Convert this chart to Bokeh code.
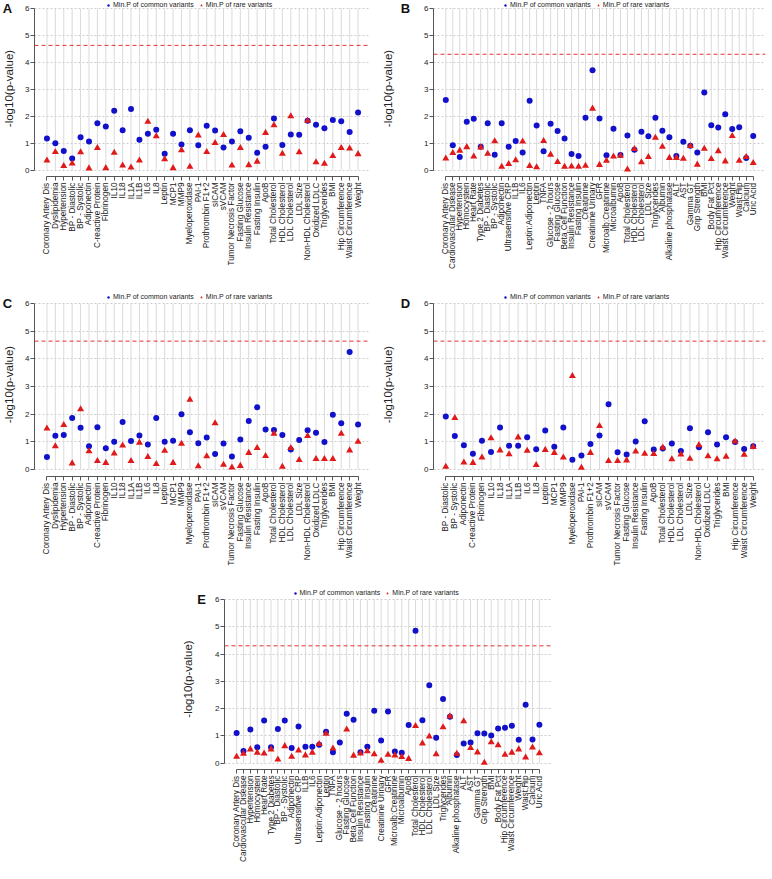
import math
import numpy as np
from bokeh.plotting import figure
from bokeh.models import (ColumnDataSource, Range1d, FixedTicker, Span, Label,
                          Legend, LegendItem)
from bokeh.layouts import column, row
from bokeh.embed import file_html
from bokeh.resources import INLINE

FONT = "Liberation Sans"
BLUE = "#1111cc"
RED = "#e01a1a"

# ---------------- data ----------------
cats_A = ["Coronary Artery Dis", "Dyslipidemia", "Hypertension", "BP - Diastolic", "BP - Systolic",
          "Adiponectin", "C-reactive Protein", "Fibrinogen", "IL10", "IL18", "IL1A", "IL1B", "IL6",
          "IL8", "Leptin", "MCP1", "MMP9", "Myeloperoxidase", "PAI-1", "Prothrombin F1+2", "sICAM",
          "sVCAM", "Tumor Necrosis Factor", "Fasting Glucose", "Insulin Resistance", "Fasting Insulin",
          "ApoB", "Total Cholesterol", "HDL Cholesterol", "LDL Cholesterol", "LDL Size",
          "Non-HDL Cholesterol", "Oxidized LDLC", "Triglycerides", "BMI", "Hip Circumference",
          "Waist Circumference", "Weight"]
common_A = [1.17, 0.99, 0.71, 0.43, 1.22, 1.06, 1.74, 1.62, 2.20, 1.48, 2.27, 1.12, 1.35, 1.50, 0.60,
            1.35, 0.95, 1.48, 0.92, 1.64, 1.47, 0.84, 1.06, 1.44, 1.20, 0.64, 0.86, 1.91, 0.93, 1.32,
            1.31, 1.83, 1.68, 1.55, 1.86, 1.81, 1.41, 2.14]
rare_A = [0.35, 0.67, 0.15, 0.24, 0.66, 0.06, 0.82, 0.07, 0.64, 0.17, 0.09, 0.35, 1.79, 1.25, 0.40,
          0.07, 0.73, 0.12, 1.28, 0.67, 1.00, 1.30, 0.17, 0.82, 0.18, 0.31, 1.38, 1.66, 0.60, 2.00,
          0.66, 1.83, 0.29, 0.23, 0.52, 0.82, 0.80, 0.59]

cats_B = ["Coronary Artery Dis", "Cardiovascular Disease", "Hypertension", "Homocystein", "Heart Rate",
          "Type 2 Diabetes", "BP - Diastolic", "BP - Systolic", "Adiponectin", "Ultrasensitive CRP",
          "IL1B", "IL6", "Leptin:Adiponectin", "Leptin", "TNFA", "Glucose - 2 hours", "Fasting Glucose",
          "Beta Cell Function", "Insulin Resistance", "Fasting Insulin", "Creatinine",
          "Creatinine Urinary", "GFR", "Microalb:Creatinine", "Microalbumin", "ApoB",
          "Total Cholesterol", "HDL Cholesterol", "LDL Cholesterol", "LDL Size", "Triglycerides",
          "Albumin", "Alkaline phosphatase", "ALT", "AST", "Gamma GT", "Grip Strength", "BMI",
          "Body Fat Pct", "Hip Circumference", "Waist Circumference", "Weight", "Waist:Hip",
          "Calcium", "Uric Acid"]
common_B = [2.60, 0.92, 0.48, 1.79, 1.90, 0.86, 1.74, 0.57, 1.74, 0.86, 1.08, 0.65, 2.57, 1.65, 0.70,
            1.72, 1.45, 1.17, 0.59, 0.52, 1.94, 3.71, 1.91, 0.55, 1.53, 0.56, 1.28, 0.75, 1.42, 1.25,
            1.94, 1.46, 1.22, 0.52, 1.05, 0.90, 0.65, 2.88, 1.66, 1.58, 2.07, 1.52, 1.59, 0.45, 1.26]
rare_B = [0.43, 0.63, 0.72, 0.85, 0.50, 0.84, 0.60, 1.07, 0.12, 0.22, 0.36, 1.06, 0.15, 0.10, 1.08,
          0.57, 0.30, 0.12, 0.13, 0.12, 0.16, 2.28, 0.19, 0.34, 0.50, 0.53, 0.02, 0.78, 0.29, 0.48,
          1.20, 0.86, 0.45, 0.45, 0.42, 0.89, 0.20, 0.79, 0.41, 0.70, 0.32, 1.26, 0.34, 0.48, 0.26]

cats_C = list(cats_A)
common_C = [0.45, 1.22, 1.25, 1.86, 1.51, 0.84, 1.53, 0.77, 1.00, 1.72, 1.03, 1.23, 0.90, 1.86, 1.00,
            1.04, 2.00, 1.35, 0.95, 1.16, 0.56, 0.94, 0.47, 1.08, 1.75, 2.25, 1.45, 1.43, 1.25, 0.72,
            1.07, 1.42, 1.33, 0.99, 1.98, 1.67, 4.25, 1.63]
rare_C = [1.48, 0.84, 1.61, 0.22, 2.18, 0.66, 0.31, 0.24, 0.58, 0.87, 0.31, 0.97, 0.45, 0.20, 0.68,
          0.24, 0.93, 2.52, 0.12, 0.48, 1.67, 0.17, 0.07, 0.13, 0.60, 0.78, 0.49, 1.29, 0.10, 0.78,
          0.34, 1.21, 0.38, 0.38, 0.38, 1.29, 0.69, 1.00]

cats_D = ["BP - Diastolic", "BP - Systolic", "Adiponectin", "C-reactive Protein", "Fibrinogen", "IL10",
          "IL18", "IL1A", "IL1B", "IL6", "IL8", "Leptin", "MCP1", "MMP9", "Myeloperoxidase", "PAI-1",
          "Prothrombin F1+2", "sICAM", "sVCAM", "Tumor Necrosis Factor", "Fasting Glucose",
          "Insulin Resistance", "Fasting Insulin", "ApoB", "Total Cholesterol", "HDL Cholesterol",
          "LDL Cholesterol", "LDL Size", "Non-HDL Cholesterol", "Oxidized LDLC", "Triglycerides", "BMI",
          "Hip Circumference", "Waist Circumference", "Weight"]
common_D = [1.92, 1.21, 0.88, 0.57, 1.04, 0.63, 1.52, 0.86, 0.86, 1.17, 0.73, 1.41, 0.82, 1.52, 0.35,
            0.51, 0.92, 1.23, 2.36, 0.62, 0.54, 1.01, 1.74, 0.72, 0.76, 0.94, 0.67, 1.49, 0.80, 1.35,
            0.90, 1.17, 0.99, 0.74, 0.84]
rare_D = [0.10, 1.86, 0.25, 0.24, 0.43, 1.13, 0.69, 0.55, 1.16, 0.68, 0.16, 0.71, 0.60, 0.43, 3.38,
          0.06, 0.60, 1.57, 0.31, 0.31, 0.33, 0.65, 0.57, 0.56, 0.79, 0.37, 0.54, 0.39, 0.88, 0.48,
          0.37, 0.46, 1.01, 0.53, 0.81]

cats_E = list(cats_B)
common_E = [1.10, 0.44, 1.23, 0.58, 1.56, 0.58, 1.25, 1.56, 0.55, 1.34, 0.60, 0.60, 0.67, 1.15, 0.39,
            0.75, 1.81, 1.59, 0.39, 0.60, 1.92, 0.83, 1.89, 0.42, 0.38, 1.39, 4.85, 1.57, 2.85, 0.93,
            2.35, 1.70, 0.29, 0.72, 0.75, 1.09, 1.08, 1.01, 1.27, 1.29, 1.37, 0.85, 2.14, 0.86, 1.40]
rare_E = [0.23, 0.34, 0.50, 0.38, 0.35, 0.50, 0.13, 0.62, 0.23, 0.46, 0.28, 0.38, 0.70, 1.07, 0.53,
          float("nan"), 1.23, 0.27, 0.35, 0.43, 0.32, 0.08, 0.30, 0.28, 0.22, 0.15, 1.36, 0.72, 0.97,
          0.32, 1.31, 1.71, 0.34, 1.53, 0.55, 0.39, 0.01, 0.76, 0.65, 0.30, 0.38, 0.50, 0.20, 0.57, 0.36]

thresholds = {"A": 4.63, "B": 4.30, "C": 4.64, "D": 4.64, "E": 4.30}
y_ticks = [0, 1, 2, 3, 4, 5, 6]


def make_panel(letter, cats, common, rare, thr, frame_w, border_left, border_right,
               ylab_standoff, frame_top, y6, y0, fig_bottom, letter_dx, legend_dx, letter_side):
    n = len(cats)
    xs = list(range(1, n + 1))
    pad = 0.04 * (n - 1)
    x_start, x_end = 1 - pad, n + pad
    pxu_x = frame_w / (x_end - x_start)
    pxu_y = (y0 - y6) / 6.0
    frame_h = int(round(y0 + 0.24 * pxu_y - frame_top))
    ytop = 6 + (y6 - frame_top) / pxu_y
    ybot = ytop - frame_h / pxu_y
    border_bottom = int(round(fig_bottom - frame_top - frame_h))

    src = ColumnDataSource(dict(x=xs, name=cats,
                                common=np.array(common, dtype=float),
                                rare=np.array(rare, dtype=float)))

    p = figure(frame_width=frame_w, frame_height=frame_h,
               x_range=Range1d(x_start, x_end), y_range=Range1d(ybot, ytop),
               min_border_left=border_left, min_border_right=border_right,
               min_border_top=0, min_border_bottom=border_bottom,
               output_backend="svg", toolbar_location=None, tools="")
    p.outline_line_color = None
    p.background_fill_color = "white"
    p.border_fill_color = "white"

    # grids
    p.xgrid.visible = False
    yt = FixedTicker(ticks=y_ticks)
    p.ygrid.ticker = yt
    p.ygrid.grid_line_color = "#cccccc"
    p.ygrid.grid_line_dash = "2 2"
    p.ygrid.grid_line_width = 1
    p.segment(x0="x", y0=0, x1="x", y1=6, source=src, line_color="#dadada", line_width=1)

    # threshold
    p.add_layout(Span(location=thr, dimension="width", line_color="#e53030",
                      line_dash="4 3", line_width=1))

    rb = p.scatter("x", "common", source=src, marker="circle", size=6,
                   fill_color=BLUE, line_color=None)
    rr = p.scatter("x", "rare", source=src, marker="triangle", size=7,
                   fill_color=RED, line_color=None)

    # axes
    xa = p.xaxis[0]
    xa.ticker = FixedTicker(ticks=xs)
    xa.major_label_overrides = {x: c for x, c in zip(xs, cats)}
    xa.major_label_orientation = math.pi / 2
    xa.major_label_text_font = FONT
    xa.major_label_text_font_size = "8.2px"
    xa.major_label_text_color = "#222222"
    xa.major_label_standoff = 2
    xa.major_tick_out = 4
    xa.major_tick_in = 0
    xa.minor_tick_line_color = None
    xa.axis_line_color = "#555555"
    xa.major_tick_line_color = "#555555"
    xa.bounds = (1, n)

    ya = p.yaxis[0]
    ya.ticker = yt
    ya.bounds = (0, 6)
    ya.major_label_text_font = FONT
    ya.major_label_text_font_size = "8px"
    ya.major_label_text_color = "#222222"
    ya.major_label_standoff = 1
    ya.major_tick_out = 4
    ya.major_tick_in = 0
    ya.minor_tick_line_color = None
    ya.axis_line_color = "#555555"
    ya.major_tick_line_color = "#555555"
    ya.axis_label = "-log10(p-value)"
    ya.axis_label_text_font = FONT
    ya.axis_label_text_font_size = "11.5px"
    ya.axis_label_text_font_style = "normal"
    ya.axis_label_text_color = "#222222"
    ya.axis_label_standoff = int(ylab_standoff)

    # legend
    leg_h = 8
    leg_w = 174
    lx = frame_w / 2.0 + legend_dx - leg_w / 2.0
    ly = frame_h - leg_h
    legend = Legend(items=[LegendItem(label="Min.P of common variants", renderers=[rb]),
                           LegendItem(label="Min.P of rare variants", renderers=[rr])],
                    location=(lx, ly), orientation="horizontal",
                    glyph_width=6, glyph_height=6, label_height=7, label_standoff=2,
                    spacing=4, padding=0, margin=0,
                    border_line_alpha=0, background_fill_alpha=0,
                    label_text_font=FONT, label_text_font_size="7px",
                    label_text_color="#222222")
    p.add_layout(legend)

    # panel letter (in a side panel so it is not clipped to the frame)
    p.add_layout(Label(x=x_start - letter_dx / pxu_x, y=6, text=letter,
                       text_font=FONT, text_font_size="13px", text_font_style="bold",
                       text_align="center", text_baseline="middle", text_color="#111111"),
                 letter_side)
    return p


pA = make_panel("A", cats_A, common_A, rare_A, thresholds["A"], 336, 31, 9, 7,
                8, 16, 177.5, 300, 27, -10, "below")
pB = make_panel("B", cats_B, common_B, rare_B, thresholds["B"], 332, 51, 1, 27,
                8, 16, 177.5, 300, 28, -10, "below")
pC = make_panel("C", cats_C, common_C, rare_C, thresholds["C"], 336, 31, 9, 7,
                300, 311, 477, 596, 27, -10, "below")
pD = make_panel("D", cats_D, common_D, rare_D, thresholds["D"], 332, 51, 1, 27,
                300, 311, 477, 596, 28, -10, "below")
pE = make_panel("E", cats_E, common_E, rare_E, thresholds["E"], 327, 224, 0, 18,
                596, 607, 770.5, 871, 23, -9, "left")

layout = column(row(pA, pB), row(pC, pD), pE)

open("out.html", "w").write(file_html(layout, INLINE))
